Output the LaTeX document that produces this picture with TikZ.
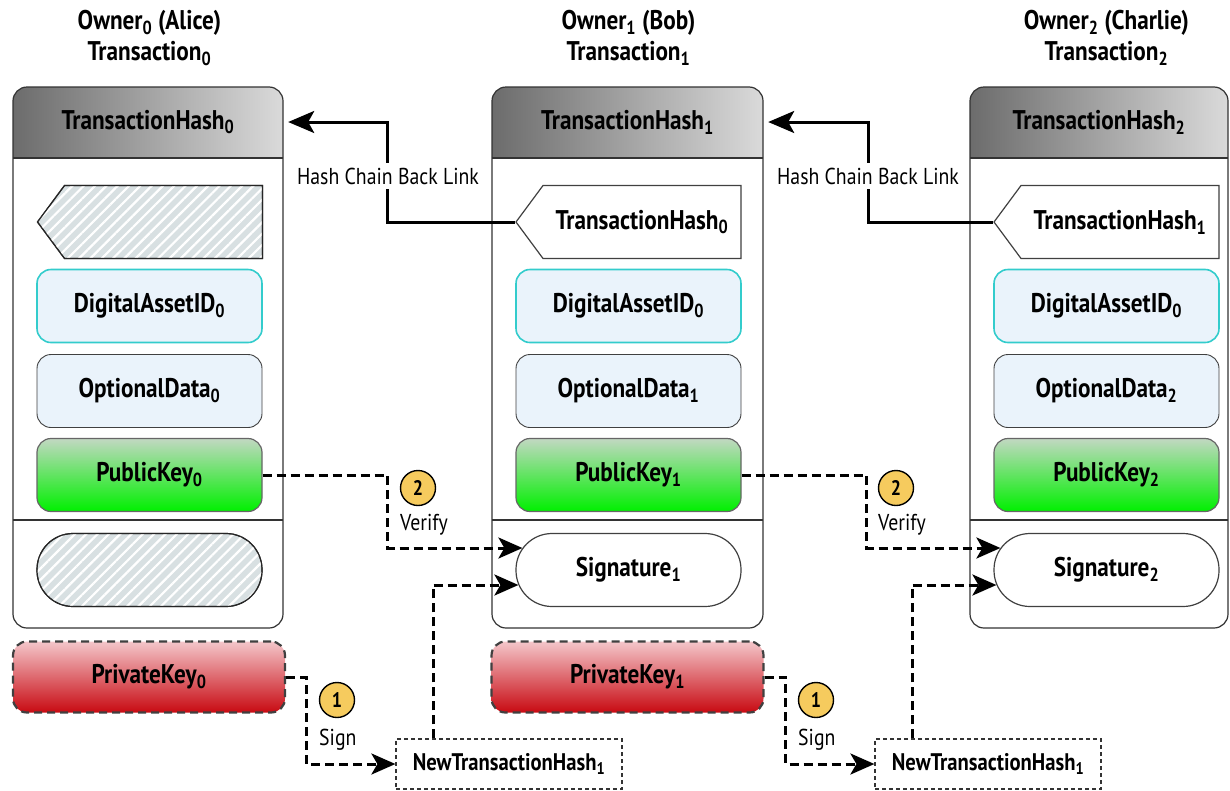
\documentclass[tikz,border=0pt]{standalone}
\usepackage{fontspec}
\setmainfont{PT Sans}[FakeStretch=0.86]
\usetikzlibrary{arrows.meta,patterns.meta,shapes.symbols}

\definecolor{hdrdark}{HTML}{6C6C6C}
\definecolor{hdrlight}{HTML}{DADADA}
\definecolor{assetfill}{HTML}{EAF3FB}
\definecolor{assetline}{HTML}{33CCCC}
\definecolor{pubtop}{HTML}{C2D8C2}
\definecolor{pubbot}{HTML}{00F000}
\definecolor{privtop}{HTML}{F4C6CA}
\definecolor{privmid}{HTML}{DA3C46}
\definecolor{privbot}{HTML}{C80A12}
\definecolor{hatchbg}{HTML}{D8E0E2}
\definecolor{badgefill}{HTML}{F6CB5E}

\newcommand{\ix}[1]{\textsubscript{#1}}

\begin{document}
\begin{tikzpicture}[x=1pt,y=-1pt,
  title/.style={font=\bfseries\fontsize{27}{31}\selectfont, align=center},
  frame/.style={draw=black!80, line width=1.2pt, rounded corners=14pt},
  header/.style={left color=hdrdark, right color=hdrlight, minimum height=71pt,
    inner sep=0pt, font=\bfseries\fontsize{27}{30}\selectfont},
  field/.style={draw=black!75, line width=0.9pt, rounded corners=14pt,
    minimum width=225pt, minimum height=73pt, inner sep=0pt,
    font=\bfseries\fontsize{27}{30}\selectfont},
  asset/.style={fill=assetfill, draw=assetline, line width=1.6pt},
  optdata/.style={fill=assetfill},
  pubkey/.style={top color=pubtop, bottom color=pubbot, draw=black!60, line width=1.2pt},
  privkey/.style={top color=privtop, middle color=privmid, bottom color=privbot,
    draw=black!75, dash pattern=on 8pt off 5pt, line width=2.2pt,
    minimum width=272pt, minimum height=71pt},
  sigbox/.style={rounded corners=36pt, fill=white, line width=1.2pt},
  pointer/.style={field, sharp corners, signal, signal to=west, signal pointer angle=107,
    line width=1.2pt},
  hatched/.style={fill=hatchbg,
    postaction={pattern={Lines[angle=45,distance=8pt,line width=2.2pt]}, pattern color=white},
    postaction={draw=black!85, line width=1.2pt}},
  newbox/.style={draw=black!80, dash pattern=on 4pt off 3pt, line width=1.2pt,
    minimum width=226pt, minimum height=50pt, inner sep=0pt,
    font=\bfseries\fontsize{24}{26}\selectfont},
  badge/.style={circle, draw=black, line width=1.4pt, fill=badgefill, minimum size=35pt,
    inner sep=0pt, font=\bfseries\fontsize{21}{23}\selectfont},
  note/.style={font=\fontsize{23}{25}\selectfont, inner sep=2pt},
  chain/.style={line width=3pt, -{Stealth[length=26pt,width=22pt,inset=6pt]}},
  flow/.style={line width=3pt, dash pattern=on 9pt off 5pt,
    -{Stealth[length=24pt,width=21pt,inset=6pt]}}]
\useasboundingbox (0,0) rectangle (1230,790);

% one column per owner
\foreach \i/\x/\w/\who in {0/13/270/Alice, 1/492/271/Bob, 2/970/258/Charlie} {
  \pgfmathsetmacro\cx{\x+136.5}
  \node[title] (owner\i) at (\cx,38) {Owner\ix{\i} (\who)\\Transaction\ix{\i}};
  \begin{scope}
    \clip[rounded corners=14pt] (\x,87) rectangle ++(\w,541);
    \node[header, minimum width=\w pt] (hash\i) at ({\x+\w/2},122) {TransactionHash\ix{\i}};
  \end{scope}
  \draw[frame] (\x,87) rectangle ++(\w,541);
  \draw[frame] (\x,158) -- ++(\w,0) (\x,520) -- ++(\w,0);
  \node[field, asset] (asset\i) at (\cx,306) {DigitalAssetID\ix{0}};
  \node[field, optdata] (data\i) at (\cx,391) {OptionalData\ix{\i}};
  \node[field, pubkey] (pub\i) at (\cx,475) {PublicKey\ix{\i}};
}

% back links and signatures (the first owner has neither)
\node[pointer, hatched] (prev0) at (163.5,222) {};
\node[pointer, fill=white] (prev1) at (642,222) {TransactionHash\ix{0}};
\node[pointer, fill=white] (prev2) at (1120,222) {TransactionHash\ix{1}};
\node[field, sigbox, hatched] (sig0) at (149.5,570) {};
\node[field, sigbox] (sig1) at (628.5,570) {Signature\ix{1}};
\node[field, sigbox] (sig2) at (1106.5,570) {Signature\ix{2}};

% private keys, kept outside the transactions
\node[field, privkey] (priv0) at (149,677) {PrivateKey\ix{0}};
\node[field, privkey] (priv1) at (627.5,677) {PrivateKey\ix{1}};
\node[newbox] (new0) at (509,764) {NewTransactionHash\ix{1}};
\node[newbox] (new1) at (988,764) {NewTransactionHash\ix{1}};

% hash chain
\draw[chain] (prev1.west) -- ++(-128,0) |- ([xshift=5pt]hash0.east);
\draw[chain] (prev2.west) -- ++(-125,0) |- ([xshift=5pt]hash1.east);
\node[note, fill=white, inner sep=5pt] (link0) at (388,176) {Hash Chain Back Link};
\node[note, fill=white, inner sep=5pt] (link1) at (868,176) {Hash Chain Back Link};

% 1: sign, 2: verify
\draw[flow] (priv0.east) -- ++(20,0) |- (new0.west);
\draw[flow] (priv1.east) -- ++(21,0) |- (new1.west);
\draw[flow] ([xshift=-76pt]new0.north) |- ([yshift=-15pt,xshift=3pt]sig1.west);
\draw[flow] ([xshift=-76pt]new1.north) |- ([yshift=-15pt,xshift=3pt]sig2.west);
\draw[flow] (pub0.east) -- ++(125,0) |- ([yshift=22pt,xshift=7pt]sig1.west);
\draw[flow] (pub1.east) -- ++(125,0) |- ([yshift=22pt,xshift=7pt]sig2.west);
\foreach \n/\bx/\vx in {0/337/418, 1/816/896} {
  \node[badge] (sign\n) at (\bx,700) {1};
  \node[note, anchor=west] (signtxt\n) at (\bx-20,740) {Sign};
  \node[badge] (verify\n) at (\vx,488) {2};
  \node[note, anchor=west] (verifytxt\n) at (\vx-20,525) {Verify};
}
\end{tikzpicture}
\end{document}
